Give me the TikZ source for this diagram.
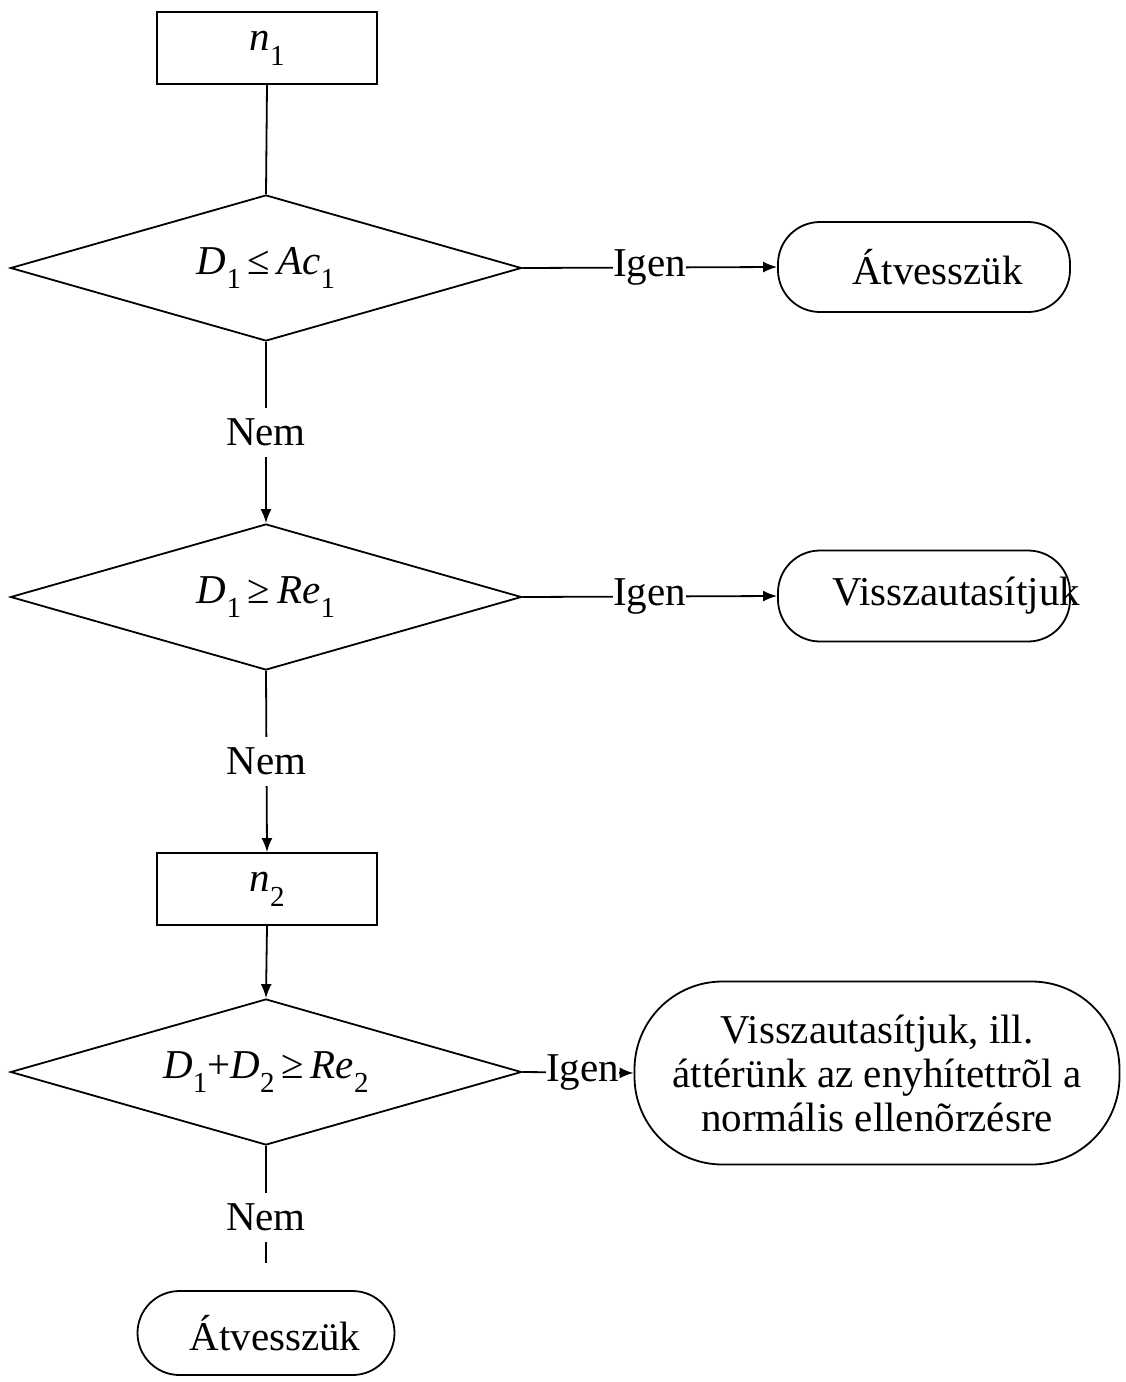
\documentclass[tikz,border=0pt]{standalone}
\usepackage{fontspec}
\setmainfont{Liberation Serif}
\usetikzlibrary{shapes.geometric,arrows.meta}
\newcommand{\sbx}[1]{\raisebox{-0.36em}{\fontsize{29}{29}\selectfont #1}}
\tikzset{
  base/.style={draw, line width=1.8pt, inner sep=0pt, font=\fontsize{41}{44}\selectfont},
  procbox/.style={base, rectangle, minimum width=220pt, minimum height=72pt},
  decision/.style={base, diamond, shape aspect=3.5, minimum width=511pt, minimum height=146pt},
  term/.style={base, rectangle, rounded corners=42pt},
  conn/.style={line width=1.8pt},
  arr/.style={conn, -{Latex[length=14pt,width=11pt]}},
  lblv/.style={fill=white, inner xsep=0pt, inner ysep=11pt, font=\fontsize{41}{44}\selectfont},
  lblh/.style={fill=white, inner sep=0pt, font=\fontsize{41}{44}\selectfont},
}
\begin{document}
\begin{tikzpicture}[x=1pt, y=-1pt]
\useasboundingbox (0,0) rectangle (1125,1382);

\node[procbox] (n1) at (267,48) {\itshape n\sbx{\upshape 1}};
\node[decision] (d1) at (266,268) {{\itshape D}\sbx{1}\,≤\,{\itshape Ac}\sbx{1}};
\node[term, minimum width=292pt, minimum height=90pt] (t1) at (924,267)
  {\makebox[292pt][l]{\hspace{74pt}Átvesszük}};

\node[decision] (d2) at (266,597) {{\itshape D}\sbx{1}\,≥\,{\itshape Re}\sbx{1}};
\node[term, minimum width=292pt, minimum height=91pt] (t2) at (924,596)
  {\makebox[292pt][l]{\hspace{54pt}Visszautasítjuk}};

\node[procbox] (n2) at (267,889) {\itshape n\sbx{\upshape 2}};
\node[decision] (d3) at (266,1072) {{\itshape D}\sbx{1}+{\itshape D}\sbx{2}\,≥\,{\itshape Re}\sbx{2}};
\node[term, rounded corners=88pt, minimum width=485pt, minimum height=183pt, align=center] (t3) at (877,1073)
  {Visszautasítjuk, ill.\\áttérünk az enyhítettrõl a\\normális ellenõrzésre};

\node[term, minimum width=257pt, minimum height=84pt] (t4) at (266,1333)
  {\makebox[257pt][l]{\hspace{52pt}Átvesszük}};
\coordinate (e3) at (266,1263);

\draw[conn] (n1.south) -- (d1.north);
\draw[arr] (d1.east) -- node[lblh]{Igen} (t1.west);
\draw[arr] (d1.south) -- node[lblv]{Nem} (d2.north);
\draw[arr] (d2.east) -- node[lblh]{Igen} (t2.west);
\draw[arr] (d2.south) -- node[lblv]{Nem} (n2.north);
\draw[arr] (n2.south) -- (d3.north);
\draw[arr] (d3.east) -- node[lblh, pos=0.54]{Igen} (t3.west);
\draw[conn] (d3.south) -- node[lblv, pos=0.61]{Nem} (e3);
\end{tikzpicture}
\end{document}
